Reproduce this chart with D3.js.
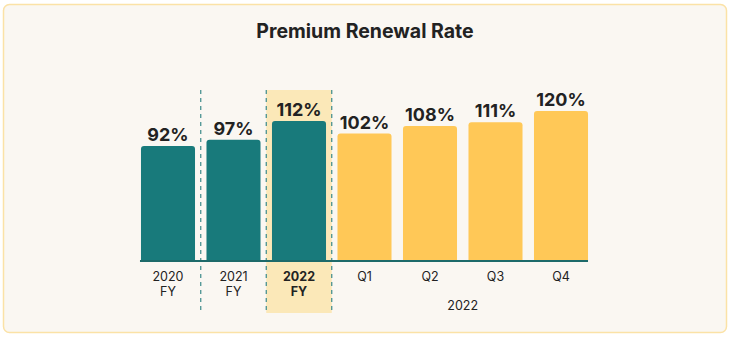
<!DOCTYPE html>
<html>
<head>
<meta charset="utf-8">
<script src="https://cdn.jsdelivr.net/npm/d3@7"></script>
<style>
  body { margin: 0; background: #ffffff; }
  svg { display: block; font-family: Inter, "Noto Sans", sans-serif; }
</style>
</head>
<body>
<svg width="730" height="337"></svg>
<script>
// chart data
var categories = ["2020 FY", "2021 FY", "2022 FY", "Q1", "Q2", "Q3", "Q4"]
var tickLines = [["2020", "FY"], ["2021", "FY"], ["2022", "FY"], ["Q1"], ["Q2"], ["Q3"], ["Q4"]]
var values = [92, 97, 112, 102, 108, 111, 120]
var kinds = ["year", "year", "year", "quarter", "quarter", "quarter", "quarter"]
var highlighted = "2022 FY"
var quarterGroupLabel = "2022"
var title = "Premium Renewal Rate"

var teal = "#187a7b"
var gold = "#ffc857"

var svg = d3.select("svg")

// card
svg.append("rect")
    .attr("x", 3.5).attr("y", 4.5)
    .attr("width", 723).attr("height", 328)
    .attr("rx", 6)
    .attr("fill", "#faf7f2")
    .attr("stroke", "#fbe2a6")
    .attr("stroke-width", 1.5)

svg.append("text")
    .attr("x", 365).attr("y", 38)
    .attr("text-anchor", "middle")
    .attr("font-size", 19.5)
    .attr("font-weight", 700)
    .attr("fill", "#222")
    .text(title)

var xScale = d3.scaleBand()
    .domain(categories)
    .range([135.25, 593.75])
    .paddingInner(0.175)
    .paddingOuter(0.0875)

var yScale = d3.scaleLinear()
    .domain([0, 120])
    .range([261, 111])

var step = xScale.step()
var gap = step - xScale.bandwidth()

// highlight band behind 2022 FY
svg.append("rect")
    .attr("x", xScale(highlighted) - gap / 2)
    .attr("y", 90)
    .attr("width", step)
    .attr("height", 223)
    .attr("fill", "#fbe8b8")

// dashed separators
var seps = [categories[1], categories[2], categories[3]]
svg.selectAll(".sep")
    .data(seps)
    .enter()
    .append("line")
    .attr("class", "sep")
    .attr("x1", function(d){ return xScale(d) - gap / 2 })
    .attr("x2", function(d){ return xScale(d) - gap / 2 })
    .attr("y1", 90)
    .attr("y2", 313)
    .attr("stroke", "#3b8a8a")
    .attr("stroke-width", 1.2)
    .attr("stroke-dasharray", "4,4")

// bars with rounded top corners
var topRounded = function(x, y, w, h, r)
    {
        return "M" + x + "," + (y + h) +
            "V" + (y + r) +
            "Q" + x + "," + y + " " + (x + r) + "," + y +
            "H" + (x + w - r) +
            "Q" + (x + w) + "," + y + " " + (x + w) + "," + (y + r) +
            "V" + (y + h) + "Z"
    }

svg.selectAll(".bar")
    .data(values)
    .enter()
    .append("path")
    .attr("class", "bar")
    .attr("fill", function(d, i){ return kinds[i] == "year" ? teal : gold })
    .attr("d", function(d, i)
        {
            var y = yScale(d)
            return topRounded(xScale(categories[i]), y, xScale.bandwidth(), yScale(0) - y, 3)
        })

svg.selectAll(".val")
    .data(values)
    .enter()
    .append("text")
    .attr("class", "val")
    .attr("x", function(d, i){ return xScale(categories[i]) + xScale.bandwidth() / 2 })
    .attr("y", function(d){ return yScale(d) - 5 })
    .attr("text-anchor", "middle")
    .attr("font-size", 18)
    .attr("font-weight", 650)
    .attr("fill", "#222")
    .text(function(d){ return d + "%" })

// x axis
var xAxis = d3.axisBottom(xScale).tickSize(0).tickPadding(0).tickFormat("")
var axisG = svg.append("g")
    .attr("transform", "translate(0," + yScale(0) + ")")
    .call(xAxis)

axisG.select(".domain")
    .attr("d", "M" + (xScale(categories[0]) - 1) + ",0H" + (xScale(categories[6]) + xScale.bandwidth()))
    .attr("stroke", "#1d6a6a")
    .attr("stroke-width", 2)

axisG.selectAll(".tick text").remove()
axisG.selectAll(".tick")
    .append("text")
    .attr("fill", "#222")
    .attr("font-size", 12.5)
    .attr("font-family", "Inter, 'Noto Sans', sans-serif")
    .attr("text-anchor", "middle")
    .attr("font-weight", function(d){ return d == highlighted ? 700 : 400 })
    .each(function(d, i)
        {
            var t = d3.select(this)
            tickLines[i].forEach(function(line, j)
                {
                    t.append("tspan")
                        .attr("x", 0)
                        .attr("y", 20 + j * 15)
                        .text(line)
                })
        })

var quarters = categories.filter(function(c, i){ return kinds[i] == "quarter" })
var qStart = xScale(quarters[0])
var qEnd = xScale(quarters[quarters.length - 1]) + xScale.bandwidth()

svg.append("text")
    .attr("x", (qStart + qEnd) / 2)
    .attr("y", yScale(0) + 49)
    .attr("text-anchor", "middle")
    .attr("font-size", 12.5)
    .attr("fill", "#222")
    .text(quarterGroupLabel)
</script>
</body>
</html>
